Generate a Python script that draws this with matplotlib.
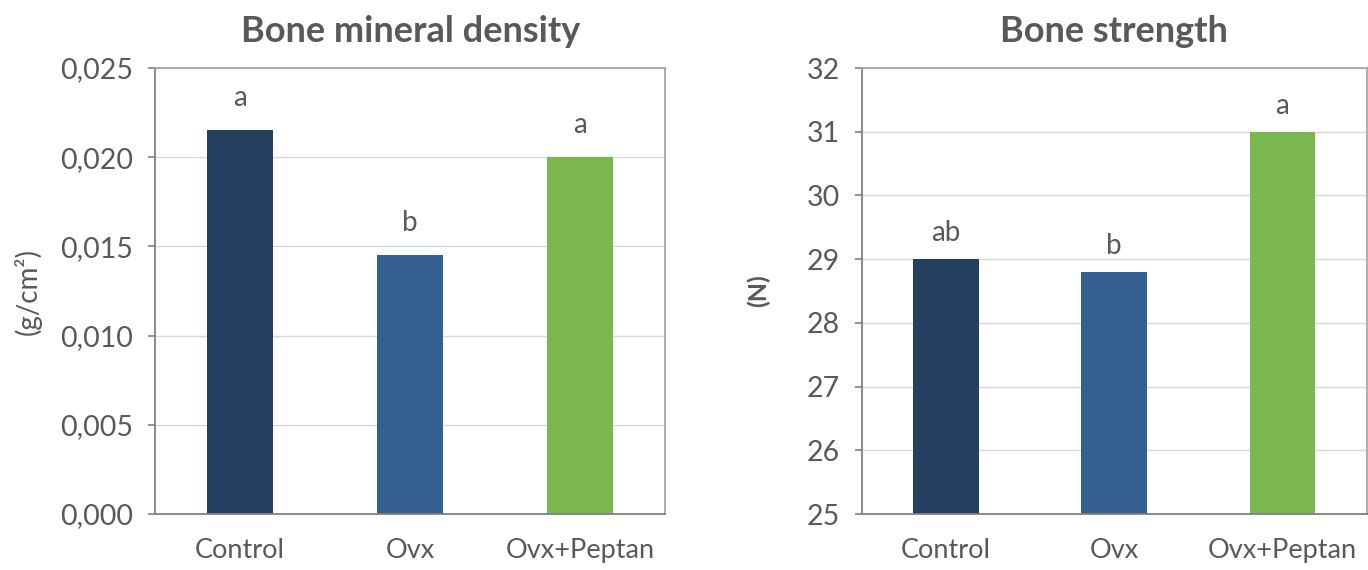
import numpy as np
import matplotlib.pyplot as plt
from matplotlib.ticker import FuncFormatter

plt.rcParams['font.family'] = ['Lato', 'DejaVu Sans']

groups = ['Control', 'Ovx', 'Ovx+Peptan']
bmd = [0.0215, 0.0145, 0.0200]
bmd_letters = ['a', 'b', 'a']
strength = [29.0, 28.8, 31.0]
strength_letters = ['ab', 'b', 'a']
colors = ['#243F60', '#365F91', '#7AB74E']

txt = '#595959'

fig = plt.figure(figsize=(13.68, 5.7), dpi=100)
ax1 = fig.add_axes([0.1133, 0.0982, 0.373, 0.7825])
ax2 = fig.add_axes([0.630, 0.0982, 0.369, 0.7825])


def style(ax, ylim, ticks, fmt, title, ylabel, ybold, lsize, lpad):
	x = np.arange(len(groups))
	ax.set_xlim(-0.5, 2.5)
	ax.set_ylim(*ylim)
	ax.set_yticks(ticks)
	ax.yaxis.set_major_formatter(FuncFormatter(fmt))
	ax.set_xticks(x)
	ax.set_xticklabels(groups)
	ax.grid(axis='y', color='#D9D9D9', lw=1)
	ax.set_axisbelow(True)
	for s in ['top', 'right']:
		ax.spines[s].set_color('#A6A6A6')
	for s in ['left', 'bottom']:
		ax.spines[s].set_color('#808080')
	for s in ax.spines.values():
		s.set_linewidth(1.3)
	ax.tick_params(axis='y', length=5, width=1.2, color='#808080', labelsize=20.5, labelcolor=txt, pad=11)
	ax.tick_params(axis='x', length=0, labelsize=19.5, labelcolor=txt, pad=17)
	ax.set_title(title, fontsize=26, fontweight='bold', color=txt, pad=19)
	ax.set_ylabel(ylabel, fontsize=lsize, color=txt, fontweight='bold' if ybold else 'normal', labelpad=lpad)


x = np.arange(len(groups))
ax1.bar(x, bmd, width=0.39, color=colors)
for i, v in enumerate(bmd):
	ax1.text(x[i], v + 0.0011, bmd_letters[i], ha='center', va='bottom', fontsize=20, color=txt)
style(ax1, (0, 0.025), np.arange(0, 0.0251, 0.005),
	lambda v, p: ('%.3f' % v).replace('.', ','), 'Bone mineral density', '(g/cm²)', False, 20, 13)

ax2.bar(x, [s - 25 for s in strength], bottom=25, width=0.39, color=colors)
for i, v in enumerate(strength):
	ax2.text(x[i], v + 0.2, strength_letters[i], ha='center', va='bottom', fontsize=20, color=txt)
style(ax2, (25, 32), np.arange(25, 33, 1),
	lambda v, p: '%d' % v, 'Bone strength', '(N)', True, 18, 26)

fig.savefig('out.png', dpi=100, facecolor='white')
